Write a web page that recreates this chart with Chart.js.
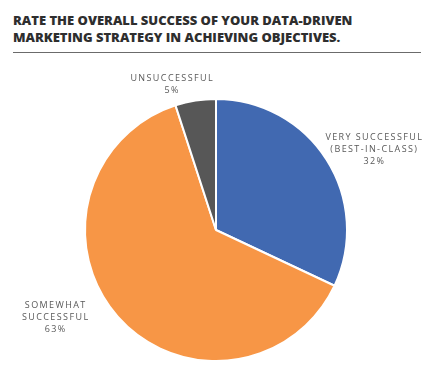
<!DOCTYPE html>
<html>
<head>
<meta charset="utf-8">
<script src="https://cdn.jsdelivr.net/npm/chart.js@4"></script>
<style>
  body { margin: 0; background: #fff; }
  #wrap { position: relative; width: 438px; height: 385px; }
  #title {
    position: absolute; left: 13px; top: 12px; width: 410px;
    font-family: "Open Sans", sans-serif; font-weight: 800; font-size: 13px;
    line-height: 17px; letter-spacing: 0px; color: #2e2e2e;
  }
  #rule { position: absolute; left: 13px; top: 52px; width: 408px; height: 0; border-top: 1.5px solid #6b6b6b; }
  canvas { position: absolute; left: 0; top: 0; }
</style>
</head>
<body>
<div id="wrap">
  <div id="title">RATE THE OVERALL SUCCESS OF YOUR DATA-DRIVEN<br>MARKETING STRATEGY IN ACHIEVING OBJECTIVES.</div>
  <div id="rule"></div>
  <canvas id="myChart" width="438" height="385"></canvas>
</div>
<script>
const categories = [['VERY SUCCESSFUL', '(BEST-IN-CLASS)'], ['SOMEWHAT', 'SUCCESSFUL'], ['UNSUCCESSFUL']];
const shares = [32, 63, 5];
const sliceColors = ['#4169B1', '#F79646', '#575757'];

// label nudges from a point just outside each slice
const labelNudge = [[14, 11], [-32, -26], [-17, 23]];

const ctx = document.getElementById('myChart').getContext('2d');

const sliceLabels = {
  id: 'sliceLabels',
  afterDatasetsDraw(chart) {
    const c = chart.ctx;
    const arcs = chart.getDatasetMeta(0).data;
    c.save();
    c.font = '9px "Open Sans", sans-serif';
    c.fillStyle = '#595959';
    c.textAlign = 'center';
    c.textBaseline = 'middle';
    c.letterSpacing = '1.4px';
    arcs.forEach((arc, i) => {
      const mid = (arc.startAngle + arc.endAngle) / 2;
      const r = arc.outerRadius + 40;
      const x = arc.x + Math.cos(mid) * r + labelNudge[i][0];
      const y = arc.y + Math.sin(mid) * r + labelNudge[i][1];
      const lines = categories[i].concat([shares[i] + '%']);
      const top = y - (lines.length - 1) * 6;
      lines.forEach((t, j) => c.fillText(t, x, top + j * 12));
    });
    c.restore();
  }
};

new Chart(ctx, {
  type: 'pie',
  data: {
    labels: categories.map(l => l.join(' ')),
    datasets: [{
      data: shares,
      backgroundColor: sliceColors,
      borderColor: '#ffffff',
      borderWidth: 2
    }]
  },
  options: {
    responsive: false,
    animation: false,
    layout: { padding: { top: 98, bottom: 23, left: 84, right: 90 } },
    plugins: { legend: { display: false }, tooltip: { enabled: false } }
  },
  plugins: [sliceLabels]
});
</script>
</body>
</html>
